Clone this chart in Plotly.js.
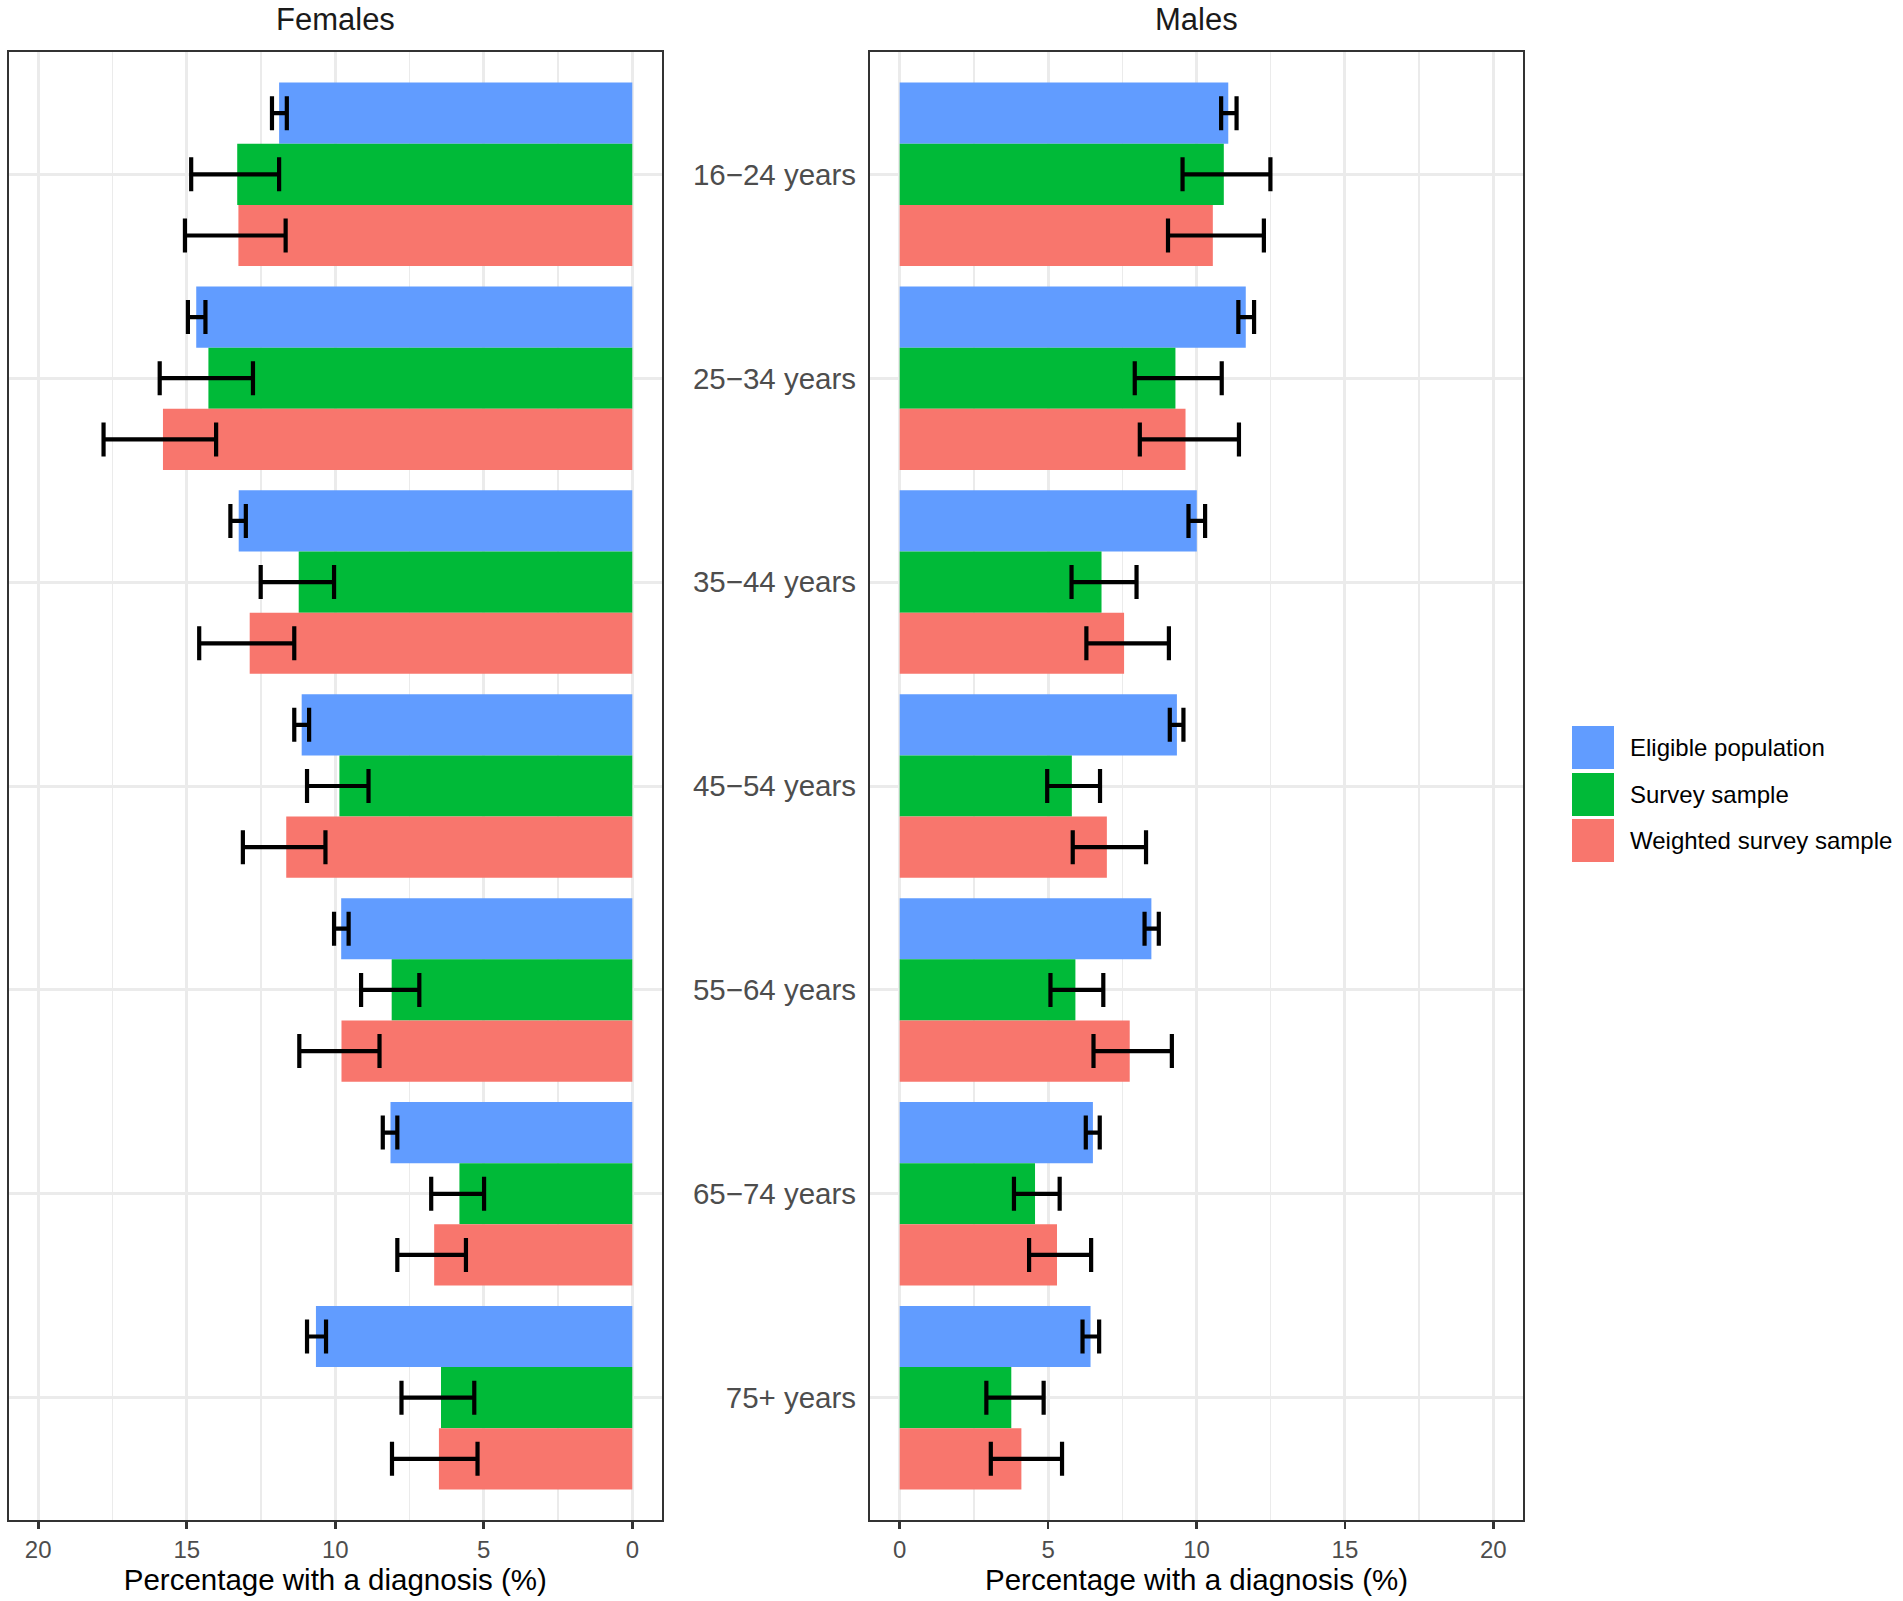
<!DOCTYPE html>
<html>
<head>
<meta charset="utf-8">
<script src="https://cdn.plot.ly/plotly-3.0.1.min.js"></script>
<style>
  body { margin: 0; background: #ffffff; }
  #myPlot { width: 1903px; height: 1601px; }
</style>
</head>
<body>
<div id="myPlot"></div>
<script>
// age groups, top to bottom
var ageGroups = ['16\u221224 years', '25\u221234 years', '35\u221244 years', '45\u221254 years',
                 '55\u221264 years', '65\u221274 years', '75+ years'];

var seriesNames = ['Eligible population', 'Survey sample', 'Weighted survey sample'];
var seriesColors = ['#619CFF', '#00BA38', '#F8766D'];

// females: estimate, lower and upper limit (%)
var femEligible   = [11.89, 14.68, 13.25, 11.13, 9.80, 8.14, 10.65];
var femEligibleLo = [11.63, 14.37, 13.01, 10.88, 9.55, 7.91, 10.31];
var femEligibleHi = [12.13, 14.96, 13.53, 11.38, 10.04, 8.40, 10.95];

var femSurvey   = [13.30, 14.27, 11.23, 9.86, 8.10, 5.82, 6.44];
var femSurveyLo = [11.89, 12.77, 10.04, 8.88, 7.17, 4.99, 5.32];
var femSurveyHi = [14.85, 15.91, 12.51, 10.95, 9.13, 6.77, 7.77];

var femWeighted   = [13.26, 15.80, 12.88, 11.65, 9.79, 6.67, 6.51];
var femWeightedLo = [11.67, 14.01, 11.38, 10.33, 8.51, 5.60, 5.21];
var femWeightedHi = [15.06, 17.80, 14.58, 13.11, 11.21, 7.91, 8.09];

// males
var maleEligible   = [11.07, 11.66, 10.01, 9.34, 8.48, 6.51, 6.43];
var maleEligibleLo = [10.83, 11.41, 9.73, 9.10, 8.25, 6.27, 6.16];
var maleEligibleHi = [11.35, 11.94, 10.29, 9.56, 8.73, 6.74, 6.72];

var maleSurvey   = [10.92, 9.29, 6.80, 5.80, 5.92, 4.56, 3.76];
var maleSurveyLo = [9.53, 7.92, 5.79, 4.97, 5.08, 3.85, 2.92];
var maleSurveyHi = [12.49, 10.85, 7.98, 6.75, 6.86, 5.39, 4.85];

var maleWeighted   = [10.55, 9.63, 7.56, 6.98, 7.75, 5.30, 4.10];
var maleWeightedLo = [9.04, 8.09, 6.29, 5.83, 6.53, 4.36, 3.07];
var maleWeightedHi = [12.27, 11.43, 9.07, 8.30, 9.17, 6.45, 5.47];

var fontFam = 'Liberation Sans, Arial, sans-serif';

function makeTrace(i, vals, lo, hi, xa, ya) {
    return {
        type: 'bar',
        orientation: 'h',
        name: seriesNames[i],
        x: vals,
        y: ageGroups,
        xaxis: xa,
        yaxis: ya,
        marker: { color: seriesColors[i], line: { width: 0 } },
        error_x: {
            type: 'data',
            symmetric: false,
            array: hi.map(function (h, k) { return h - vals[k]; }),
            arrayminus: lo.map(function (l, k) { return vals[k] - l; }),
            color: '#000000',
            thickness: 4.2,
            width: 17
        },
        showlegend: false,
        hoverinfo: 'x+y+name'
    };
}

var plotData = [
    makeTrace(0, femEligible, femEligibleLo, femEligibleHi, 'x', 'y'),
    makeTrace(1, femSurvey, femSurveyLo, femSurveyHi, 'x', 'y'),
    makeTrace(2, femWeighted, femWeightedLo, femWeightedHi, 'x', 'y'),
    makeTrace(0, maleEligible, maleEligibleLo, maleEligibleHi, 'x2', 'y2'),
    makeTrace(1, maleSurvey, maleSurveyLo, maleSurveyHi, 'x2', 'y2'),
    makeTrace(2, maleWeighted, maleWeightedLo, maleWeightedHi, 'x2', 'y2')
];

var W = 1903, H = 1601;
var yDom = [(H - 1520) / H, (H - 52) / H];

function xAxis(dom, rng, anchor) {
    return {
        domain: dom,
        anchor: anchor,
        range: rng,
        dtick: 5,
        tick0: 0,
        showgrid: true,
        gridcolor: '#EBEBEB',
        gridwidth: 3,
        minor: { dtick: 2.5, tick0: 0, showgrid: true, gridcolor: '#EBEBEB', gridwidth: 1.5 },
        zeroline: false,
        showline: true,
        mirror: true,
        linecolor: '#333333',
        linewidth: 2,
        ticks: 'outside',
        ticklen: 7,
        tickwidth: 2.8,
        tickcolor: '#333333',
        tickfont: { family: fontFam, size: 24, color: '#4D4D4D' },
        title: {
            text: 'Percentage with a diagnosis (%)',
            font: { family: fontFam, size: 29.5, color: '#000000' },
            standoff: 6
        },
        automargin: false,
        fixedrange: true
    };
}

function yAxis(anchor, labels) {
    return {
        domain: yDom,
        anchor: anchor,
        type: 'category',
        range: [6.6, -0.6],
        showgrid: true,
        gridcolor: '#EBEBEB',
        gridwidth: 3,
        zeroline: false,
        showline: true,
        mirror: true,
        linecolor: '#333333',
        linewidth: 2,
        ticks: '',
        showticklabels: labels,
        ticklabelstandoff: 6,
        tickfont: { family: fontFam, size: 29.5, color: '#4D4D4D' },
        automargin: false,
        fixedrange: true
    };
}

var leftDom = [8.5 / W, 662 / W];
var rightDom = [870 / W, 1523 / W];

// panel titles, then a hand-made legend (keys and labels)
var shapes = [];
var annotations = [
    { text: 'Females', x: (leftDom[0] + leftDom[1]) / 2, y: 1 - 19.5 / H, xref: 'paper', yref: 'paper',
      xanchor: 'center', yanchor: 'middle', showarrow: false,
      font: { family: fontFam, size: 31, color: '#1A1A1A' } },
    { text: 'Males', x: (rightDom[0] + rightDom[1]) / 2, y: 1 - 19.5 / H, xref: 'paper', yref: 'paper',
      xanchor: 'center', yanchor: 'middle', showarrow: false,
      font: { family: fontFam, size: 31, color: '#1A1A1A' } }
];
var keyTops = [726, 773, 819];
seriesNames.forEach(function (nm, i) {
    var top = keyTops[i];
    shapes.push({
        type: 'rect', xref: 'paper', yref: 'paper',
        x0: 1572 / W, x1: 1614 / W, y0: 1 - (top + 43) / H, y1: 1 - top / H,
        fillcolor: seriesColors[i], line: { width: 0 }
    });
    annotations.push({
        text: nm, xref: 'paper', yref: 'paper', x: 1628 / W, y: 1 - (top + 21.5) / H,
        xanchor: 'left', yanchor: 'middle', showarrow: false,
        font: { family: fontFam, size: 24, color: '#000000' }
    });
});

var layout = {
    width: W,
    height: H,
    margin: { l: 0, r: 0, t: 0, b: 0 },
    paper_bgcolor: '#ffffff',
    plot_bgcolor: '#ffffff',
    barmode: 'group',
    bargap: 0.1,
    bargroupgap: 0,
    showlegend: false,
    font: { family: fontFam },
    xaxis: xAxis(leftDom, [21, -1], 'y'),
    yaxis: yAxis('x', false),
    xaxis2: xAxis(rightDom, [-1, 21], 'y2'),
    yaxis2: yAxis('x2', true),
    shapes: shapes,
    annotations: annotations
};

Plotly.newPlot('myPlot', plotData, layout, { displayModeBar: false, staticPlot: true });
</script>
</body>
</html>
